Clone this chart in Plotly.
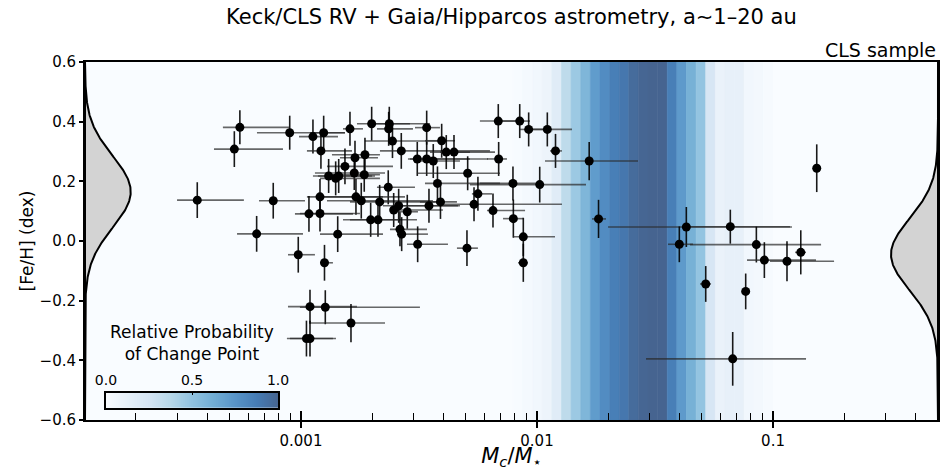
import numpy as np
import plotly.graph_objects as go
from plotly.colors import sample_colorscale

# ---------------- data ----------------
mass_ratio = [5.51e-4, 8.96e-4, 1.124e-3, 1.248e-3, 5.22e-4, 1.613e-3, 1.993e-3, 2.367e-3, 2.353e-3, 3.409e-3,
              1.215e-3, 2.442e-3, 2.661e-3, 1.694e-3, 1.867e-3, 1.536e-3, 1.682e-3, 1.854e-3, 1.31e-3, 1.403e-3,
              1.445e-3, 2.343e-3, 1.204e-3, 1.710e-3, 1.801e-3, 2.155e-3, 2.471e-3, 2.594e-3, 2.821e-3, 1.081e-3,
              1.204e-3, 1.974e-3, 2.120e-3, 2.627e-3, 2.671e-3, 1.431e-3, 6.49e-4, 9.74e-4, 1.258e-3, 3.110e-3,
              3.409e-3, 3.635e-3, 3.946e-3, 4.127e-3, 4.45e-3, 6.855e-3, 8.45e-3, 9.22e-3, 1.106e-2, 1.198e-2,
              6.88e-3, 5.085e-3, 3.787e-3, 7.91e-3, 1.027e-2, 5.62e-3, 5.41e-3, 3.486e-3, 3.900e-3, 6.51e-3,
              7.94e-3, 8.75e-3, 8.75e-3, 3.122e-3, 5.05e-3, 1.664e-2, 1.823e-2, 4.293e-2, 6.593e-2, 4.009e-2,
              8.50e-2, 9.19e-2, 0.1146, 0.1311, 5.187e-2, 7.66e-2, 6.748e-2, 0.1532, 3.636e-4, 7.63e-4,
              1.092e-3, 1.268e-3, 1.629e-3, 1.055e-3, 1.092e-3]
mass_ratio_lo = [4.67e-4, 6.51e-4, 9.81e-4, 1.092e-3, 4.28e-4, 1.507e-3, 1.727e-3, 2.059e-3, 2.099e-3, 3.041e-3,
                 1.06e-3, 1.867e-3, 2.161e-3, 1.463e-3, 1.353e-3, 1.289e-3, 1.146e-3, 1.327e-3, 1.124e-3, 1.204e-3,
                 1.180e-3, 2.099e-3, 1.06e-3, 1.239e-3, 1.289e-3, 1.613e-3, 2.383e-3, 2.226e-3, 2.502e-3, 9.43e-4,
                 9.90e-4, 1.507e-3, 1.613e-3, 2.383e-3, 2.551e-3, 1.204e-3, 5.36e-4, 8.81e-4, 1.204e-3, 2.840e-3,
                 2.896e-3, 3.192e-3, 3.353e-3, 3.520e-3, 3.881e-3, 5.73e-3, 6.97e-3, 8.47e-3, 9.34e-3, 1.135e-2,
                 6.14e-3, 3.101e-3, 3.353e-3, 5.73e-3, 5.20e-3, 5.30e-3, 3.881e-3, 2.502e-3, 3.192e-3, 6.14e-3,
                 7.18e-3, 7.91e-3, 8.31e-3, 2.813e-3, 4.58e-3, 1.081e-2, 1.710e-2, 2.00e-2, 4.45e-2, 3.59e-2,
                 4.45e-2, 7.76e-2, 9.71e-2, 0.124, 4.907e-2, 7.39e-2, 2.897e-2, 0.1491, 2.985e-4, 6.64e-4,
                 8.81e-4, 9.90e-4, 1.092e-3, 8.72e-4, 8.98e-4]
mass_ratio_hi = [8.90e-4, 1.536e-3, 1.435e-3, 1.536e-3, 8.39e-4, 1.831e-3, 2.896e-3, 3.520e-3, 2.982e-3, 3.881e-3,
                 1.645e-3, 3.996e-3, 6.32e-3, 2.120e-3, 2.161e-3, 2.454e-3, 2.270e-3, 2.161e-3, 2.059e-3, 2.161e-3,
                 1.999e-3, 3.041e-3, 2.226e-3, 2.759e-3, 3.624e-3, 4.58e-3, 3.996e-3, 4.717e-3, 3.131e-3, 1.661e-3,
                 1.778e-3, 3.101e-3, 2.627e-3, 3.419e-3, 3.452e-3, 2.226e-3, 1.02e-3, 1.146e-3, 1.366e-3, 6.20e-3,
                 5.20e-3, 4.717e-3, 4.494e-3, 5.20e-3, 6.64e-3, 8.47e-3, 9.34e-3, 1.081e-2, 1.407e-2, 1.276e-2,
                 7.46e-3, 6.97e-3, 6.97e-3, 1.030e-2, 1.613e-2, 6.45e-3, 1.276e-2, 4.626e-3, 4.075e-3, 8.90e-3,
                 8.73e-3, 1.192e-2, 9.16e-3, 4.196e-3, 5.62e-3, 2.679e-2, 1.961e-2, 0.1203, 0.118, 4.58e-2,
                 0.1598, 0.1521, 0.1814, 0.138, 5.463e-2, 7.99e-2, 0.138, 0.1582, 5.73e-4, 1.04e-3,
                 1.727e-3, 3.192e-3, 2.270e-3, 1.407e-3, 1.366e-3]
feh = [0.381, 0.363, 0.350, 0.363, 0.308, 0.376, 0.393, 0.393, 0.376, 0.380,
       0.302, 0.335, 0.302, 0.279, 0.289, 0.250, 0.228, 0.222, 0.218, 0.210,
       0.218, 0.180, 0.148, 0.148, 0.135, 0.131, 0.104, 0.118, 0.098, 0.091,
       0.092, 0.071, 0.071, 0.039, 0.023, 0.023, 0.024, -0.046, -0.073, 0.275,
       0.275, 0.268, 0.336, 0.298, 0.298, 0.402, 0.402, 0.374, 0.374, 0.302,
       0.275, 0.227, 0.193, 0.193, 0.189, 0.158, 0.123, 0.118, 0.131, 0.102,
       0.075, 0.014, -0.073, -0.011, -0.024, 0.268, 0.074, 0.047, 0.048, -0.011,
       -0.012, -0.064, -0.068, -0.038, -0.144, -0.169, -0.395, 0.244, 0.137, 0.135,
       -0.220, -0.222, -0.275, -0.327, -0.327]
feh_err = [0.057, 0.057, 0.057, 0.057, 0.060, 0.057, 0.057, 0.057, 0.057, 0.057,
           0.060, 0.057, 0.060, 0.057, 0.057, 0.060, 0.057, 0.057, 0.057, 0.057,
           0.057, 0.057, 0.060, 0.060, 0.060, 0.057, 0.057, 0.057, 0.057, 0.060,
           0.060, 0.057, 0.057, 0.057, 0.057, 0.060, 0.060, 0.060, 0.060, 0.057,
           0.057, 0.057, 0.057, 0.057, 0.057, 0.057, 0.057, 0.057, 0.057, 0.057,
           0.057, 0.057, 0.057, 0.057, 0.060, 0.057, 0.057, 0.057, 0.057, 0.057,
           0.064, 0.064, 0.064, 0.060, 0.060, 0.064, 0.064, 0.067, 0.057, 0.060,
           0.060, 0.060, 0.067, 0.074, 0.060, 0.060, 0.090, 0.080, 0.060, 0.060,
           0.057, 0.057, 0.064, 0.060, 0.060]

# change-point posterior (relative probability per log10 bin)
cp_log_lo, cp_log_hi = -2.1, -1.0
cp_prob = [0.01, 0.03, 0.05, 0.08, 0.17, 0.34, 0.46, 0.57, 0.71, 0.79, 0.86, 0.90, 0.96, 0.99,
           1.00, 1.00, 0.86, 0.72, 0.60, 0.49, 0.23, 0.10, 0.12, 0.12, 0.05, 0.04, 0.02]

# metallicity distributions of the two sub-samples (gaussians on the axes)
left_mu, left_sigma, left_amp = 0.165, 0.12, 0.0536
right_mu, right_sigma, right_amp = -0.045, 0.12, 0.0551

# ---------------- styling helpers ----------------
blues = ['#f7fbff', '#deebf7', '#c6dbef', '#9ecae1', '#6baed6', '#4292c6', '#2171b5', '#08519c', '#08306b']
alpha = 0.75

def blend(h):
    h = h.lstrip('#')
    r, g, b = (int(h[i:i + 2], 16) for i in (0, 2, 4))
    f = lambda c: int(round(alpha * c + (1 - alpha) * 255))
    return f'rgb({f(r)},{f(g)},{f(b)})'

cscale = [[i / (len(blues) - 1), blend(c)] for i, c in enumerate(blues)]
bg = blend(blues[0])

FONT = 'DejaVu Sans'
XRANGE = [-3.915, -0.301]

fig = go.Figure()

# background bands (change-point posterior) drawn as filled rectangles in data space
edges = 10 ** np.linspace(cp_log_lo, cp_log_hi, len(cp_prob) + 1)
band_colors = sample_colorscale(cscale, cp_prob)
for i, p in enumerate(cp_prob):
    fig.add_trace(go.Scatter(
        x=[edges[i], edges[i + 1], edges[i + 1], edges[i], edges[i]],
        y=[-0.6, -0.6, 0.6, 0.6, -0.6], mode='lines', fill='toself',
        fillcolor=band_colors[i], line=dict(color=band_colors[i], width=0.6),
        showlegend=False, hoverinfo='skip'))

# data points
x = np.array(mass_ratio)
fig.add_trace(go.Scatter(
    x=x, y=feh, mode='markers',
    marker=dict(color='black', size=9),
    error_x=dict(type='data', symmetric=False, array=np.array(mass_ratio_hi) - x,
                 arrayminus=x - np.array(mass_ratio_lo), color='rgba(40,40,40,0.7)', thickness=1.6, width=0),
    error_y=dict(type='data', array=feh_err, color='rgba(0,0,0,0.9)', thickness=1.6, width=0),
    showlegend=False, hoverinfo='skip'))

# gaussians on the axes
yy = np.linspace(-0.6, 0.6, 400)
gl = left_amp * np.exp(-0.5 * ((yy - left_mu) / left_sigma) ** 2)
gr = 1 - right_amp * np.exp(-0.5 * ((yy - right_mu) / right_sigma) ** 2)
fig.add_trace(go.Scatter(x=np.concatenate([gl, [0, 0]]), y=np.concatenate([yy, [0.6, -0.6]]),
                         xaxis='x2', yaxis='y', mode='lines', fill='toself', fillcolor='#d3d3d3',
                         line=dict(color='black', width=2), showlegend=False, hoverinfo='skip'))
fig.add_trace(go.Scatter(x=np.concatenate([gr, [1, 1]]), y=np.concatenate([yy, [0.6, -0.6]]),
                         xaxis='x2', yaxis='y', mode='lines', fill='toself', fillcolor='#d3d3d3',
                         line=dict(color='black', width=2), showlegend=False, hoverinfo='skip'))

# helper axis carrying the inward half of the major x ticks
fig.add_trace(go.Scatter(x=[1e-2], y=[0], xaxis='x4', yaxis='y', mode='markers',
                         marker=dict(opacity=0), showlegend=False, hoverinfo='skip'))

# inset colour bar
cb = np.linspace(0, 1, 256)
fig.add_trace(go.Heatmap(z=[cb.tolist()], x=cb, y=[0.5], colorscale=cscale, zmin=0, zmax=1,
                         showscale=False, xaxis='x3', yaxis='y3', hoverinfo='skip'))

fig.update_layout(
    width=940, height=470,
    margin=dict(l=85, r=2, t=62, b=50),
    paper_bgcolor='white', plot_bgcolor=bg,
    font=dict(family=FONT, color='black', size=15),
    xaxis=dict(type='log', range=XRANGE, tickmode='linear', tick0=0, dtick=1, tickformat='~g',
               ticks='outside', ticklen=6, tickwidth=1.5, tickcolor='black', automargin=False,
               minor=dict(ticks='inside', ticklen=7, tickwidth=1.2, tickcolor='black', dtick='D1', showgrid=False),
               showline=True, linecolor='black', linewidth=2, mirror=True, showgrid=False, zeroline=False,
               tickfont=dict(size=15),
               title=dict(text='<i>M</i><sub><i>c</i></sub>/<i>M</i><sub>\u22c6</sub>', font=dict(size=21), standoff=6)),
    xaxis2=dict(overlaying='x', range=[0, 1], visible=False),
    xaxis4=dict(overlaying='x', anchor='y', side='bottom', type='log', range=XRANGE, tickmode='linear', tick0=0,
                dtick=1, ticks='inside', ticklen=9, tickwidth=1.5, tickcolor='black', showticklabels=False,
                showline=False, showgrid=False, zeroline=False, automargin=False),
    yaxis=dict(range=[-0.6, 0.6], dtick=0.2, tickformat='.1f', ticks='outside', ticklen=4, tickwidth=1.5,
               tickcolor='black', showline=True, linecolor='black', linewidth=2, mirror=True, automargin=False,
               showgrid=False, zeroline=False, tickfont=dict(size=15),
               title=dict(text='[Fe/H] (dex)', font=dict(size=17), standoff=2)),
    xaxis3=dict(domain=[0.0246, 0.2263], anchor='y3', range=[0, 1], side='top', automargin=False,
                tickmode='array', tickvals=[0, 0.5, 1], ticktext=['0.0', '0.5', '1.0'],
                ticks='inside', ticklen=3, tickcolor='black', showline=True, linecolor='black', linewidth=1.5,
                mirror=True, showgrid=False, zeroline=False, tickfont=dict(size=14)),
    yaxis3=dict(domain=[0.0335, 0.0763], anchor='x3', range=[0, 1], showticklabels=False, ticks='',
                automargin=False,
                showline=True, linecolor='black', linewidth=1.5, mirror=True, showgrid=False, zeroline=False),
    annotations=[
        dict(text='Keck/CLS RV + Gaia/Hipparcos astrometry, a\u223c1\u201320 au', xref='paper', yref='paper',
             x=0.5, y=1, yshift=45, xanchor='center', yanchor='middle', showarrow=False, font=dict(size=21)),
        dict(text='CLS sample', xref='paper', yref='paper', x=1, y=1, xanchor='right', yanchor='middle',
             yshift=12, showarrow=False, font=dict(size=19)),
        dict(text='Relative Probability<br>of Change Point', xref='paper', yref='paper', x=0.1254, y=0.215,
             xanchor='center', yanchor='middle', showarrow=False, font=dict(size=17)),
    ],
)

fig.write_html('out.html', config={'displayModeBar': False},
               post_script="document.body.style.margin='0';document.body.style.overflow='hidden';")
